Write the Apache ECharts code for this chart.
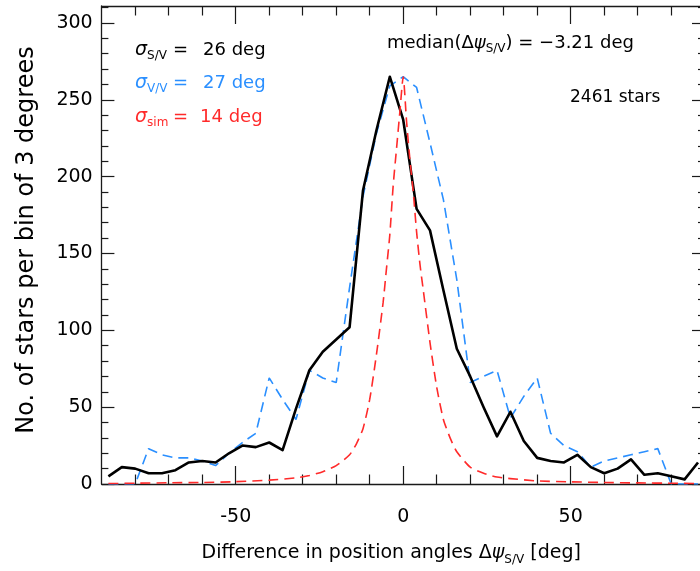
<!DOCTYPE html>
<html>
<head>
<meta charset="utf-8">
<script src="https://cdn.jsdelivr.net/npm/echarts@6/dist/echarts.min.js"></script>
<style>
  html, body { margin: 0; padding: 0; width: 700px; height: 571px; overflow: hidden; background: #fff; }
  #chart { width: 710px; height: 571px; }
</style>
</head>
<body>
<div id="chart"></div>
<script>
// Histogram of position-angle differences (bin centres in degrees)
const binCenters = [-88, -84, -80, -76, -72, -68, -64, -60, -56, -52, -48, -44, -40, -36, -32, -28, -24, -20, -16, -12, -8, -4,
  0, 4, 8, 12, 16, 20, 24, 28, 32, 36, 40, 44, 48, 52, 56, 60, 64, 68, 72, 76, 80, 84, 88];
// Δψ S/V counts (solid black)
const countsSV = [5, 11, 10, 7, 7, 9, 14, 15, 14, 20, 25, 24, 27, 22, 49, 74, 86, 94, 102, 191, 230, 265,
  237, 179, 165, 126, 88, 70, 50, 31, 47, 28, 17, 15, 14, 19, 11, 7, 10, 16, 6, 7, 5, 3, 14];
// V/V counts, scaled to the same peak (dashed blue)
const countsVV = [0, 0, 0, 23, 19, 17, 17, 15, 12, 20, 27, 33, 69, 55, 42, 74, 69, 66, 128, 187, 228, 259,
  265, 258, 222, 185, 133, 66, 70, 74, 43, 57, 69, 33, 25, 21, 11, 15, 17, 19, 21, 23, 0, 0, 0];
// Simulated distribution (dashed red), sampled more finely near the peak
const simAngles = [-88, -80, -70, -60, -50, -40, -32, -28, -24, -20, -16, -14, -12, -10, -8, -6, -5, -4, -3, -2, -1,
  0, 1, 2, 3, 4, 5, 6, 8, 10, 12, 14, 16, 20, 24, 28, 32, 40, 50, 60, 70, 80, 88];
const simCounts = [0.3, 0.5, 0.8, 1, 1.5, 2.5, 4, 5.5, 8, 12, 19, 26, 36, 55, 84, 118, 140, 162, 194, 218, 242,
  265, 236, 211, 190, 164, 143, 126, 92, 63, 42, 30, 21, 11, 7, 4.5, 3.5, 2, 1.4, 1, 0.7, 0.5, 0.3];

// Tick positions
const xMajorTicks = [-50, 0, 50];
const xMinorTicks = [-80, -70, -60, -40, -30, -20, -10, 10, 20, 30, 40, 60, 70, 80];
const yMajorTicks = [0, 50, 100, 150, 200, 250, 300];
const yMinorTicks = [10, 20, 30, 40, 60, 70, 80, 90, 110, 120, 130, 140, 160, 170, 180, 190,
  210, 220, 230, 240, 260, 270, 280, 290, 310];

const FONT = 'DejaVu Sans';
const INK = '#000';
const BLUE = '#2a8fff';
const RED = '#ff2a2a';
const X_MIN = -90, X_MAX = 90, Y_MIN = 0, Y_MAX = 311;

const axisLineStyle = { color: '#1a1a1a', width: 1.3 };
const tickStyle = { color: '#1a1a1a', width: 1.2 };

function xAxisDef(position, ticks, len, withLine, extra) {
  return Object.assign({
    type: 'value', position: position, min: X_MIN, max: X_MAX,
    axisLine: { show: withLine, onZero: false, lineStyle: axisLineStyle },
    axisTick: { show: true, inside: true, length: len, customValues: ticks, lineStyle: tickStyle },
    axisLabel: { show: false },
    splitLine: { show: false }
  }, extra || {});
}
function yAxisDef(position, ticks, len, withLine, extra) {
  return Object.assign({
    type: 'value', position: position, min: Y_MIN, max: Y_MAX,
    axisLine: { show: withLine, onZero: false, lineStyle: axisLineStyle },
    axisTick: { show: true, inside: true, length: len, customValues: ticks, lineStyle: tickStyle },
    axisLabel: { show: false },
    splitLine: { show: false }
  }, extra || {});
}

const option = {
  backgroundColor: '#fff',
  animation: false,
  grid: { left: 101.7, top: 6, width: 603, height: 480.5, containLabel: false },
  xAxis: [
    xAxisDef('bottom', xMajorTicks, 18, true, {
      axisLabel: { show: true, customValues: xMajorTicks, margin: 24, fontSize: 19, fontFamily: FONT, color: INK },
      name: '{t|Difference in position angles Δ}{i|ψ}{s|S/V}{t| [deg]}',
      nameLocation: 'middle', nameGap: 56,
      nameTextStyle: {
        fontFamily: FONT, color: INK,
        padding: [0, 24, 0, 0],
        rich: {
          t: { fontSize: 19, fontFamily: FONT, color: INK, lineHeight: 26 },
          i: { fontSize: 19, fontFamily: FONT, color: INK, fontStyle: 'italic', lineHeight: 26 },
          s: { fontSize: 12, fontFamily: FONT, color: INK, lineHeight: 13, verticalAlign: 'bottom' }
        }
      }
    }),
    xAxisDef('bottom', xMinorTicks, 9.5, false),
    xAxisDef('top', xMajorTicks, 18, true),
    xAxisDef('top', xMinorTicks, 9.5, false)
  ],
  yAxis: [
    yAxisDef('left', yMajorTicks, 12.7, true, {
      axisLabel: { show: true, customValues: yMajorTicks, margin: 9, fontSize: 19, fontFamily: FONT, color: INK },
      name: 'No. of stars per bin of 3 degrees',
      nameLocation: 'middle', nameGap: 63,
      nameTextStyle: { fontFamily: FONT, fontSize: 24, color: INK, padding: [0, 0, 0, 10] }
    }),
    yAxisDef('left', yMinorTicks, 6.7, false),
    yAxisDef('right', yMajorTicks, 12.7, true),
    yAxisDef('right', yMinorTicks, 6.7, false)
  ],
  series: [
    {
      name: 'S/V', type: 'line', xAxisIndex: 0, yAxisIndex: 0,
      data: binCenters.map((x, i) => [x, countsSV[i]]),
      showSymbol: false, symbol: 'none',
      lineStyle: { color: '#000', width: 2.6, join: 'round' },
      z: 3
    },
    {
      name: 'V/V', type: 'line', xAxisIndex: 0, yAxisIndex: 0,
      data: binCenters.map((x, i) => [x, countsVV[i]]),
      showSymbol: false, symbol: 'none',
      lineStyle: { color: BLUE, width: 1.6, type: [10, 6] },
      z: 2
    },
    {
      name: 'sim', type: 'line', xAxisIndex: 0, yAxisIndex: 0,
      data: simAngles.map((x, i) => [x, simCounts[i]]),
      showSymbol: false, symbol: 'none',
      smooth: 0.2,
      lineStyle: { color: RED, width: 1.6, type: [10, 6] },
      z: 4
    }
  ],
  graphic: [
    // sigma labels
    { type: 'text', x: 135, y: 50, style: { text: '{g|σ}{s|S/V}', rich: {
        g: { fontSize: 19, fontFamily: FONT, fontStyle: 'italic', fill: INK, lineHeight: 24 },
        s: { fontSize: 12, fontFamily: FONT, fill: INK, lineHeight: 12, verticalAlign: 'bottom' } },
        verticalAlign: 'middle', align: 'left' } },
    { type: 'text', x: 173, y: 50, style: { text: '=', font: '18px ' + FONT, fill: INK, verticalAlign: 'middle' } },
    { type: 'text', x: 203, y: 50, style: { text: '26 deg', font: '18px ' + FONT, fill: INK, verticalAlign: 'middle' } },

    { type: 'text', x: 135, y: 83, style: { text: '{g|σ}{s|V/V}', rich: {
        g: { fontSize: 19, fontFamily: FONT, fontStyle: 'italic', fill: BLUE, lineHeight: 24 },
        s: { fontSize: 12, fontFamily: FONT, fill: BLUE, lineHeight: 12, verticalAlign: 'bottom' } },
        verticalAlign: 'middle', align: 'left' } },
    { type: 'text', x: 173, y: 83, style: { text: '=', font: '18px ' + FONT, fill: BLUE, verticalAlign: 'middle' } },
    { type: 'text', x: 203, y: 83, style: { text: '27 deg', font: '18px ' + FONT, fill: BLUE, verticalAlign: 'middle' } },

    { type: 'text', x: 135, y: 117, style: { text: '{g|σ}{s|sim}', rich: {
        g: { fontSize: 19, fontFamily: FONT, fontStyle: 'italic', fill: RED, lineHeight: 24 },
        s: { fontSize: 12, fontFamily: FONT, fill: RED, lineHeight: 12, verticalAlign: 'bottom' } },
        verticalAlign: 'middle', align: 'left' } },
    { type: 'text', x: 173, y: 117, style: { text: '=', font: '18px ' + FONT, fill: RED, verticalAlign: 'middle' } },
    { type: 'text', x: 200, y: 117, style: { text: '14 deg', font: '18px ' + FONT, fill: RED, verticalAlign: 'middle' } },

    // median and star count
    { type: 'text', x: 387, y: 43, style: { text: '{t|median(Δ}{i|ψ}{s|S/V}{t|) = −3.21 deg}', rich: {
        t: { fontSize: 18, fontFamily: FONT, fill: INK, lineHeight: 24 },
        i: { fontSize: 18, fontFamily: FONT, fontStyle: 'italic', fill: INK, lineHeight: 24 },
        s: { fontSize: 12, fontFamily: FONT, fill: INK, lineHeight: 12, verticalAlign: 'bottom' } },
        verticalAlign: 'middle', align: 'left' } },
    { type: 'text', x: 570, y: 98, style: { text: '2461 stars', font: '17px ' + FONT, fill: INK, verticalAlign: 'middle' } }
  ]
};

const chart = echarts.init(document.getElementById('chart'), null, { renderer: 'canvas' });
chart.setOption(option);
</script>
</body>
</html>
